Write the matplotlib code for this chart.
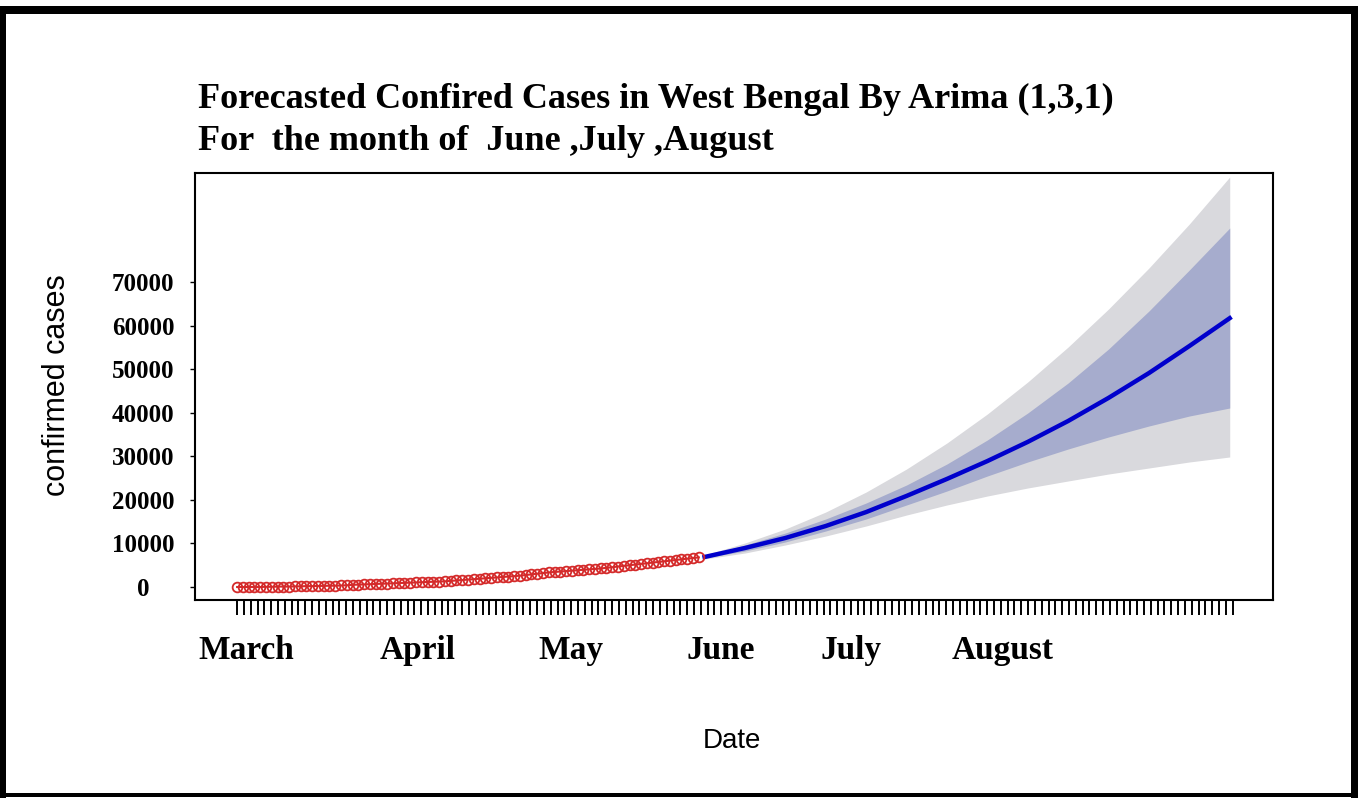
import matplotlib
matplotlib.use("Agg")
import matplotlib.pyplot as plt
from matplotlib.patches import Rectangle
import numpy as np

# observed confirmed cases, daily from 12 March to 31 May (day index 0..80)
obs_cases = [0, 0, 0, 0, 0, 50, 50, 100, 100, 100,
             150, 150, 200, 200, 250, 250, 300, 300, 350, 400,
             500, 550, 600, 650, 700, 750, 800, 850, 900, 950,
             1000, 1050, 1100, 1150, 1200, 1250, 1300, 1400, 1500, 1600,
             1700, 1800, 1900, 2000, 2100, 2200, 2300, 2400, 2500, 2600,
             2750, 2900, 3050, 3200, 3350, 3450, 3550, 3650, 3750, 3850,
             3950, 4050, 4150, 4250, 4400, 4550, 4700, 4850, 5000, 5150,
             5300, 5450, 5600, 5750, 5900, 6050, 6200, 6350, 6500, 6650, 6800]
obs_days = np.arange(len(obs_cases))

# forecast, read weekly from 1 June to 31 August
fc_days = [81, 88, 95, 102, 109, 116, 123, 130, 137, 144, 151, 158, 165, 172]
fc_mean = [6890, 8950, 11250, 14000, 17200, 20900, 24800, 28900, 33300, 38100, 43400, 49100, 55300, 61700]
lo80 = [6660, 8260, 10330, 12850, 15610, 18820, 22030, 25470, 28690, 31670, 34430, 36950, 39240, 41080]
hi80 = [7110, 9640, 12390, 15610, 19280, 23410, 28230, 33740, 39930, 46820, 54620, 63340, 72750, 82390]
lo95 = [6430, 7800, 9640, 11700, 14000, 16520, 18820, 20880, 22720, 24330, 25930, 27310, 28690, 29840]
hi95 = [7340, 10100, 13310, 17210, 21800, 27080, 33050, 39700, 47050, 55080, 63800, 73210, 83310, 94100]

months = ['March', 'April', 'May', 'June', 'July', 'August']
month_label_days = [1.6, 31.2, 57.9, 83.8, 106.4, 132.7]
yticks = [0, 10000, 20000, 30000, 40000, 50000, 60000, 70000]

fig = plt.figure(figsize=(13.64, 7.98), dpi=100)
ax = fig.add_axes([195 / 1364, 198 / 798, 1078 / 1364, 427 / 798])

ax.fill_between(fc_days, lo95, hi95, color='#d9d9dd', lw=0)
ax.fill_between(fc_days, lo80, hi80, color='#a6accd', lw=0)
ax.plot(fc_days, fc_mean, color='#0000cc', lw=3.2)
ax.plot(obs_days, obs_cases, color='#d42a2a', lw=1.5, marker='o', markersize=7,
        markerfacecolor='none', markeredgecolor='#d42a2a', markeredgewidth=1.3)

ax.set_xlim(-7.3, 179.5)
ax.set_ylim(-2984, 95020)

# small ticks under the box, month names as labels
ax.set_xticks(np.linspace(0, 172.5, 147), minor=True)
ax.set_xticks(month_label_days, labels=months)
ax.tick_params(axis='x', which='minor', direction='out', length=11, width=1.4, color='black')
ax.tick_params(axis='x', which='major', length=0, pad=25)
for lab in ax.get_xticklabels():
    lab.set_fontfamily('Liberation Serif')
    lab.set_fontweight('bold')
    lab.set_fontsize(24)

ax.set_yticks(yticks, labels=[str(v) for v in yticks])
ax.tick_params(axis='y', direction='out', length=3.5, width=1, pad=34)
for lab in ax.get_yticklabels():
    lab.set_fontfamily('Liberation Serif')
    lab.set_fontweight('bold')
    lab.set_fontsize(18)
    lab.set_ha('center')

for s in ax.spines.values():
    s.set_linewidth(1.5)

ax.set_xlabel('Date', family='Liberation Sans', fontsize=20)
ax.xaxis.set_label_coords(0.498, -0.30)
ax.set_ylabel('confirmed cases', family='Liberation Sans', fontsize=22)
ax.yaxis.set_label_coords(-0.114, 0.504)

fig.text(198 / 1364, 1 - 108 / 798, 'Forecasted Confired Cases in West Bengal By Arima (1,3,1)',
         family='Liberation Serif', weight='bold', fontsize=26, va='baseline')
fig.text(198 / 1364, 1 - 150 / 798, 'For  the month of  June ,July ,August',
         family='Liberation Serif', weight='bold', fontsize=26, va='baseline')

# black picture frame
W, H = 1364, 798
for x0, y0, w, h in [(0, H - 14, 1358, 8), (0, 0, 6, H - 6), (1351, 0, 7, H - 6), (0, 1, 1358, 4)]:
    fig.add_artist(Rectangle((x0 / W, y0 / H), w / W, h / H, transform=fig.transFigure,
                             color='black', lw=0))

fig.savefig('out.png', dpi=100)
